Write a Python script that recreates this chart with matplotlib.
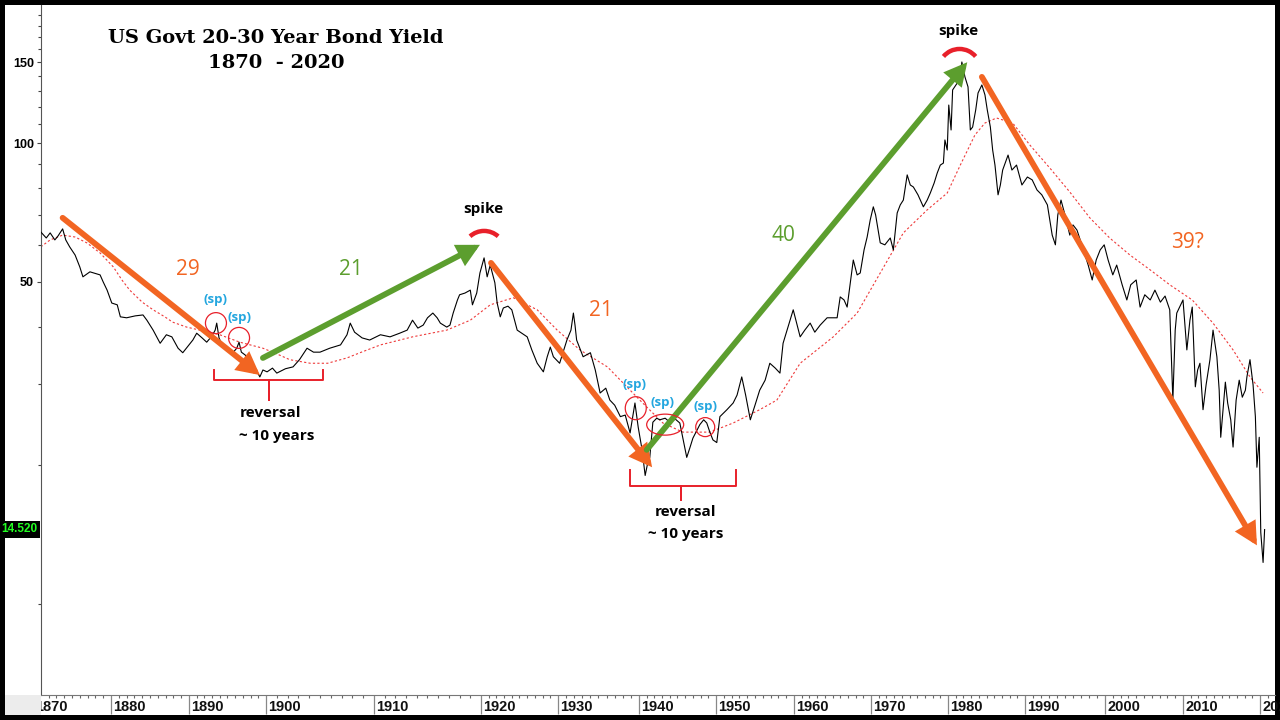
import numpy as np
import matplotlib
matplotlib.use("Agg")
import matplotlib.pyplot as plt
from matplotlib.patches import FancyArrowPatch, Arc, Ellipse, Rectangle
from matplotlib.transforms import ScaledTranslation
from matplotlib.ticker import FixedLocator, FixedFormatter, NullFormatter

# ---------------- data ----------------
yield_years = [
    1871.0, 1871.7, 1872.2, 1872.8, 1873.2, 1873.8, 1874.2, 1874.7, 1875.4, 1876.0,
    1876.4, 1877.3, 1878.6, 1879.0, 1879.5, 1880.1, 1880.8, 1881.2, 1882.0, 1883.1,
    1884.1, 1884.6, 1885.4, 1886.3, 1887.1, 1887.8, 1888.6, 1889.2, 1890.0, 1890.5,
    1891.0, 1891.7, 1892.3, 1893.0, 1893.4, 1893.6, 1893.9, 1894.4, 1895.1, 1895.7,
    1896.2, 1896.5, 1896.8, 1897.3, 1897.9, 1898.6, 1899.2, 1899.6, 1900.1, 1900.6,
    1901.0, 1901.8, 1902.5, 1903.1, 1903.8, 1904.4, 1905.0, 1905.9, 1906.9, 1907.5,
    1907.8, 1908.2, 1908.9, 1909.6, 1910.6, 1911.5, 1912.4, 1913.1, 1913.6, 1914.1,
    1914.6, 1915.0, 1915.5, 1915.9, 1916.2, 1916.8, 1917.1, 1917.4, 1917.8, 1918.0,
    1918.5, 1919.0, 1919.2, 1919.6, 1919.9, 1920.4, 1920.8, 1921.2, 1921.8, 1922.1,
    1922.5, 1922.9, 1923.5, 1924.0, 1924.7, 1925.3, 1926.0, 1926.6, 1927.3, 1928.1,
    1928.6, 1929.0, 1929.4, 1930.2, 1931.1, 1931.6, 1931.9, 1932.1, 1932.3, 1933.1,
    1934.0, 1934.6, 1935.2, 1935.9, 1936.4, 1937.0, 1937.7, 1938.3, 1938.9, 1939.5,
    1939.9, 1940.4, 1940.8, 1941.2, 1941.4, 1941.8, 1942.3, 1942.7, 1943.4, 1944.0,
    1944.7, 1945.3, 1945.7, 1946.2, 1946.6, 1947.0, 1947.9, 1948.4, 1948.8, 1949.2,
    1949.6, 1950.1, 1950.5, 1951.4, 1952.2, 1952.7, 1953.3, 1953.8, 1954.4, 1955.0,
    1955.6, 1956.3, 1956.9, 1957.6, 1958.2, 1958.6, 1959.5, 1959.9, 1960.4, 1960.8,
    1961.4, 1962.1, 1962.7, 1963.4, 1964.3, 1964.9, 1965.6, 1966.0, 1966.5, 1966.9,
    1967.7, 1968.2, 1968.6, 1969.1, 1969.5, 1969.9, 1970.3, 1970.6, 1971.2, 1971.8,
    1972.5, 1972.9, 1973.4, 1973.8, 1974.2, 1974.7, 1975.1, 1975.5, 1976.1, 1976.8,
    1977.3, 1977.7, 1978.2, 1978.6, 1979.0, 1979.4, 1979.6, 1979.9, 1980.1, 1980.4,
    1980.6, 1981.2, 1981.6, 1981.8, 1982.2, 1982.6, 1982.9, 1983.2, 1983.6, 1983.9,
    1984.4, 1984.8, 1985.1, 1985.5, 1985.8, 1986.1, 1986.5, 1986.8, 1987.1, 1987.8,
    1988.3, 1988.9, 1989.6, 1990.3, 1990.9, 1991.5, 1992.1, 1992.8, 1993.4, 1993.8,
    1994.1, 1994.5, 1995.0, 1995.6, 1996.0, 1996.5, 1997.1, 1997.9, 1998.4, 1998.9,
    1999.4, 1999.9, 2000.4, 2001.0, 2001.5, 2002.2, 2002.8, 2003.3, 2004.0, 2004.5,
    2005.1, 2005.8, 2006.4, 2007.1, 2007.7, 2008.3, 2008.7, 2009.0, 2009.2, 2010.0,
    2010.5, 2010.9, 2011.2, 2011.6, 2011.9, 2012.2, 2012.6, 2013.0, 2013.5, 2013.9,
    2014.4, 2014.7, 2014.9, 2015.2, 2015.5, 2015.8, 2016.2, 2016.5, 2016.9, 2017.3,
    2017.7, 2018.1, 2018.3, 2018.7, 2019.1, 2019.4, 2019.6, 2019.9, 2020.1, 2020.4,
    2020.6,
]
yield_values = [
    64.2, 62.3, 63.9, 61.7, 62.9, 65.2, 61.7, 59.6, 57.2, 53.9,
    51.3, 52.6, 51.8, 50.0, 48.0, 45.0, 44.6, 42.0, 41.8, 42.2,
    42.4, 41.3, 39.3, 36.8, 38.4, 38.0, 35.9, 35.1, 36.5, 37.4,
    38.7, 37.8, 37.0, 38.2, 39.3, 40.7, 37.8, 36.1, 35.6, 35.1,
    35.9, 37.0, 35.2, 34.7, 33.5, 32.5, 31.1, 32.2, 31.9, 32.5,
    31.7, 32.4, 32.7, 33.9, 35.9, 35.2, 35.2, 35.9, 36.5, 38.4,
    40.7, 38.9, 37.8, 37.4, 38.4, 38.0, 38.7, 39.3, 41.3, 39.7,
    40.3, 41.8, 42.8, 41.8, 40.7, 39.9, 40.3, 42.8, 45.7, 46.9,
    47.3, 48.0, 44.6, 47.3, 52.3, 56.4, 51.3, 54.4, 49.8, 45.0,
    42.0, 43.9, 44.3, 43.5, 39.3, 38.7, 38.0, 35.6, 33.3, 31.9,
    34.4, 36.1, 34.4, 33.3, 37.4, 39.3, 42.8, 40.3, 37.4, 34.4,
    35.1, 32.2, 28.7, 29.4, 27.7, 27.0, 25.5, 25.7, 23.5, 27.3,
    24.2, 21.6, 19.0, 20.5, 20.8, 24.8, 25.3, 25.1, 25.3, 24.8,
    25.2, 24.7, 22.9, 20.8, 21.8, 22.9, 24.5, 25.1, 24.7, 23.6,
    22.7, 22.4, 25.5, 26.4, 27.3, 28.4, 31.1, 28.4, 25.1, 27.0,
    29.1, 30.6, 33.3, 32.5, 31.7, 36.8, 41.3, 43.5, 40.3, 38.0,
    39.3, 40.7, 38.9, 40.3, 41.8, 41.8, 41.8, 46.4, 45.7, 44.1,
    55.8, 51.8, 52.3, 58.7, 62.6, 68.2, 72.8, 69.9, 60.8, 60.2,
    62.3, 58.7, 70.6, 73.5, 75.3, 85.4, 81.2, 80.4, 77.3, 72.8,
    75.3, 78.0, 82.0, 86.2, 89.7, 90.6, 101.7, 96.7, 121.1, 106.9,
    130.6, 135.2, 140.8, 150.2, 139.4, 132.6, 106.9, 108.5, 118.2, 128.6,
    133.9, 127.4, 118.2, 108.5, 96.7, 89.7, 77.3, 81.2, 87.5, 94.3,
    87.5, 89.7, 81.2, 84.5, 83.3, 79.2, 77.3, 73.5, 63.2, 60.2,
    69.9, 75.3, 69.9, 63.2, 66.5, 64.8, 60.2, 54.4, 50.5, 55.8,
    58.7, 60.2, 55.8, 51.8, 54.4, 49.3, 45.7, 49.3, 50.5, 44.1,
    46.9, 45.7, 48.0, 45.2, 46.6, 43.5, 27.7, 39.3, 42.8, 45.7,
    35.6, 41.3, 44.1, 29.6, 32.2, 33.3, 26.4, 29.9, 33.9, 39.3,
    34.4, 29.1, 23.0, 26.4, 30.3, 27.3, 25.1, 21.9, 27.7, 30.6,
    28.1, 29.1, 31.1, 33.9, 29.9, 25.5, 19.8, 23.0, 14.3, 12.3,
    14.5,
]

ma_years = [
    1871.0, 1872.2, 1873.8, 1875.4, 1876.9, 1878.6, 1880.3, 1881.4, 1882.4, 1884.0,
    1885.4, 1886.9, 1887.9, 1889.7, 1891.4, 1894.0, 1896.6, 1899.6, 1901.0, 1902.2,
    1904.1, 1905.7, 1907.5, 1908.7, 1910.6, 1913.6, 1916.8, 1919.0, 1921.2, 1924.2,
    1927.3, 1929.9, 1932.7, 1936.1, 1937.7, 1940.1, 1943.1, 1945.7, 1949.2, 1952.2,
    1955.6, 1957.8, 1960.8, 1965.1, 1968.2, 1971.2, 1974.2, 1977.3, 1979.9, 1981.6,
    1983.5, 1984.8, 1986.3, 1988.4, 1990.6, 1993.1, 1995.6, 1998.1, 2000.6, 2003.2,
    2005.8, 2008.3, 2011.2, 2013.9, 2016.5, 2018.7, 2020.4,
]
ma_values = [
    59.6, 61.7, 63.2, 62.6, 60.8, 57.8, 53.9, 50.5, 48.0, 45.2,
    43.5, 42.0, 40.9, 39.9, 39.3, 38.4, 37.0, 35.9, 34.9, 33.9,
    33.3, 33.3, 34.2, 35.1, 36.5, 38.0, 39.3, 41.3, 44.6, 46.2,
    43.5, 39.3, 35.6, 32.7, 30.6, 27.7, 24.7, 23.6, 23.6, 24.7,
    26.4, 27.7, 33.3, 38.0, 42.8, 52.3, 63.9, 71.7, 78.0, 89.7,
    104.3, 110.7, 113.5, 110.7, 99.2, 88.4, 78.4, 68.9, 62.3, 57.2,
    53.1, 49.3, 45.7, 40.7, 35.6, 31.1, 28.7,
]

decade_ticks = [1870, 1880, 1890, 1900, 1910, 1920, 1930, 1940, 1950,
                1960, 1970, 1980, 1990, 2000, 2010, 2020]
y_label_ticks = [50, 100, 150]
last_value = 14.520

# ---------------- chart's uneven time axis (pixel of each decade) ----------------
decade_px = [33, 111, 189, 266, 374, 481, 558, 639, 716, 794, 871, 948,
             1025, 1105, 1183, 1260]
anchor_years = np.array([1860.0] + decade_ticks + [2030.0], dtype=float)
anchor_px = np.array([33 - 78] + decade_px + [1260 + 77], dtype=float)


def fwd(x):
    return np.interp(np.asarray(x, dtype=float), anchor_years, anchor_px)


def inv(p):
    return np.interp(np.asarray(p, dtype=float), anchor_px, anchor_years)


W, H = 1280, 720
RIGHT = 1275
fig = plt.figure(figsize=(W / 100, H / 100), dpi=100, facecolor="black")

# white page inside black frame
fig.add_artist(Rectangle((5 / W, 5 / H), (RIGHT - 5) / W, 710 / H, transform=fig.transFigure,
                         facecolor="white", edgecolor="none", zorder=0))
# grey corner below the price scale (drawn on top so it hides the cut 1870 digit)
fig.add_artist(Rectangle((5 / W, 5 / H), 36 / W, 20 / H, transform=fig.transFigure,
                         facecolor="#ececec", edgecolor="none", zorder=10))

ax = fig.add_axes([41 / W, 25 / H, (RIGHT - 41) / W, 690 / H])
ax.set_facecolor("white")
ax.set_xscale("function", functions=(fwd, inv))
ax.set_yscale("log")

ax.plot(yield_years, yield_values, color="black", lw=0.8, zorder=3)
ax.plot(ma_years, ma_values, color="#ee3a3a", lw=0.8, ls=(0, (2, 2)), zorder=2)

ax.set_xlim(float(inv(41)), float(inv(RIGHT)))
ax.set_ylim(6.34, 199.7)

for s in ("top", "right"):
    ax.spines[s].set_visible(False)
ax.spines["left"].set_color("#555555")
ax.spines["bottom"].set_color("#777777")

NARROW = ["Liberation Sans Narrow", "Liberation Sans", "DejaVu Sans"]

# y ticks
ax.yaxis.set_major_locator(FixedLocator(y_label_ticks))
ax.yaxis.set_major_formatter(FixedFormatter([str(v) for v in y_label_ticks]))
ax.yaxis.set_minor_locator(FixedLocator(list(range(10, 201, 10))))
ax.yaxis.set_minor_formatter(NullFormatter())
ax.tick_params(axis="y", which="major", direction="out", length=3, width=0.8,
               color="#444444", labelsize=9, pad=2)
ax.tick_params(axis="y", which="minor", direction="out", length=2, width=0.8,
               color="#444444")
for lab in ax.get_yticklabels():
    lab.set_fontfamily(NARROW)
    lab.set_fontweight("bold")

# x ticks: decade lines down through label strip, yearly minor ticks
ax.xaxis.set_major_locator(FixedLocator(decade_ticks))
ax.xaxis.set_major_formatter(NullFormatter())
ax.xaxis.set_minor_locator(FixedLocator(list(range(1860, 2031))))
ax.xaxis.set_minor_formatter(NullFormatter())
ax.tick_params(axis="x", which="major", direction="out", length=14, width=0.9,
               color="#888888")
ax.tick_params(axis="x", which="minor", direction="out", length=2.5, width=0.8,
               color="#666666")

xoff = ScaledTranslation(2 / 100, 0, fig.dpi_scale_trans)
for yr in decade_ticks:
    ax.text(yr, -0.007, str(yr), transform=ax.get_xaxis_transform() + xoff,
            ha="left", va="top", fontsize=10.5, family=NARROW, fontweight="bold",
            color="#111111", clip_on=False)

# last-value tag
ax.text(-0.003, last_value, f"{last_value:.3f}", transform=ax.get_yaxis_transform(),
        ha="right", va="center", fontsize=8.5, family=NARROW, fontweight="bold",
        color="#22ff22", bbox=dict(facecolor="black", edgecolor="none", pad=1.6))

# ---------------- annotations ----------------
ORANGE = "#f26522"
GREEN = "#5c9e2e"
CYAN = "#23a6df"
RED = "#e8202a"
SANS = ["Open Sans", "DejaVu Sans"]


def arrow(p0, p1, color):
    ax.add_artist(FancyArrowPatch(p0, p1, arrowstyle="-|>,head_length=0.5,head_width=0.26",
                                  mutation_scale=20, color=color, lw=4.2,
                                  shrinkA=0, shrinkB=0, zorder=6,
                                  transform=ax.transData, joinstyle="miter"))


arrow((1873.8, 68.9), (1899.2, 31.4), ORANGE)
arrow((1899.6, 34.2), (1919.9, 60.2), GREEN)
arrow((1921.3, 55.0), (1941.7, 19.8), ORANGE)
arrow((1941.0, 21.6), (1982.5, 150.0), GREEN)
arrow((1984.4, 139.4), (2019.6, 13.4), ORANGE)


def label(x, y, s, color, size, weight="normal"):
    ax.text(x, y, s, color=color, fontsize=size, fontweight=weight, family=SANS,
            ha="center", va="center", zorder=7)


label(1889.9, 53.1, "29", ORANGE, 15)
label(1907.9, 53.1, "21", GREEN, 15)
label(1935.3, 43.3, "21", ORANGE, 15)
label(1958.6, 63.2, "40", GREEN, 15)
label(2010.6, 60.8, "39?", ORANGE, 15)
label(1920.3, 72.0, "spike", "black", 11, "bold")
label(1981.3, 175.4, "spike", "black", 11, "bold")
label(1900.4, 26.0, "reversal", "black", 11, "bold")
label(1901.0, 23.1, "~ 10 years", "black", 11, "bold")
label(1946.0, 15.8, "reversal", "black", 11, "bold")
label(1946.1, 14.2, "~ 10 years", "black", 11, "bold")


def at(x, y):
    return fig.dpi_scale_trans + ScaledTranslation(x, y, ax.transData)


# spike arcs (radius in pixels)
for (x, y, t1, t2) in [(1920.4, 58.1, 48, 132), (1981.5, 144.3, 40, 140)]:
    ax.add_artist(Arc((0, 0), 0.42, 0.42, theta1=t1, theta2=t2, transform=at(x, y),
                      color=RED, lw=3.2, zorder=7))

# (sp) markers: label position, ring position, ring size (px)
sp_marks = [
    ((1893.5, 45.9), (1893.5, 40.7), 21, 21),
    ((1896.5, 41.8), (1896.5, 37.8), 21, 21),
    ((1939.4, 29.9), (1939.6, 26.6), 21, 23),
    ((1943.1, 27.3), (1943.4, 24.5), 37, 21),
    ((1948.6, 26.8), (1948.6, 24.2), 19, 19),
]
for (lx, ly), (cx, cy), w, h in sp_marks:
    label(lx, ly, "(sp)", CYAN, 9.5, "bold")
    ax.add_artist(Ellipse((0, 0), w / 100, h / 100, transform=at(cx, cy), fill=False,
                          ec=RED, lw=0.9, zorder=7))


def brace(x0, xc, x1, ytop, ymid, ybot):
    ax.plot([x0, x0, xc, xc, xc, x1, x1], [ytop, ymid, ymid, ybot, ymid, ymid, ytop],
            color=RED, lw=1.4, solid_joinstyle="round", zorder=7)


brace(1893.3, 1900.3, 1905.3, 32.2, 30.6, 27.7)
brace(1938.9, 1945.5, 1952.5, 19.5, 18.0, 16.8)

# title
fig.text(276 / W, 1 - 38 / H, "US Govt 20-30 Year Bond Yield", ha="center", va="center",
         fontsize=14, fontweight="bold", family="DejaVu Serif", color="black")
fig.text(276 / W, 1 - 63 / H, "1870  - 2020", ha="center", va="center",
         fontsize=14, fontweight="bold", family="DejaVu Serif", color="black")

fig.savefig("out.png", dpi=100, facecolor="black")
